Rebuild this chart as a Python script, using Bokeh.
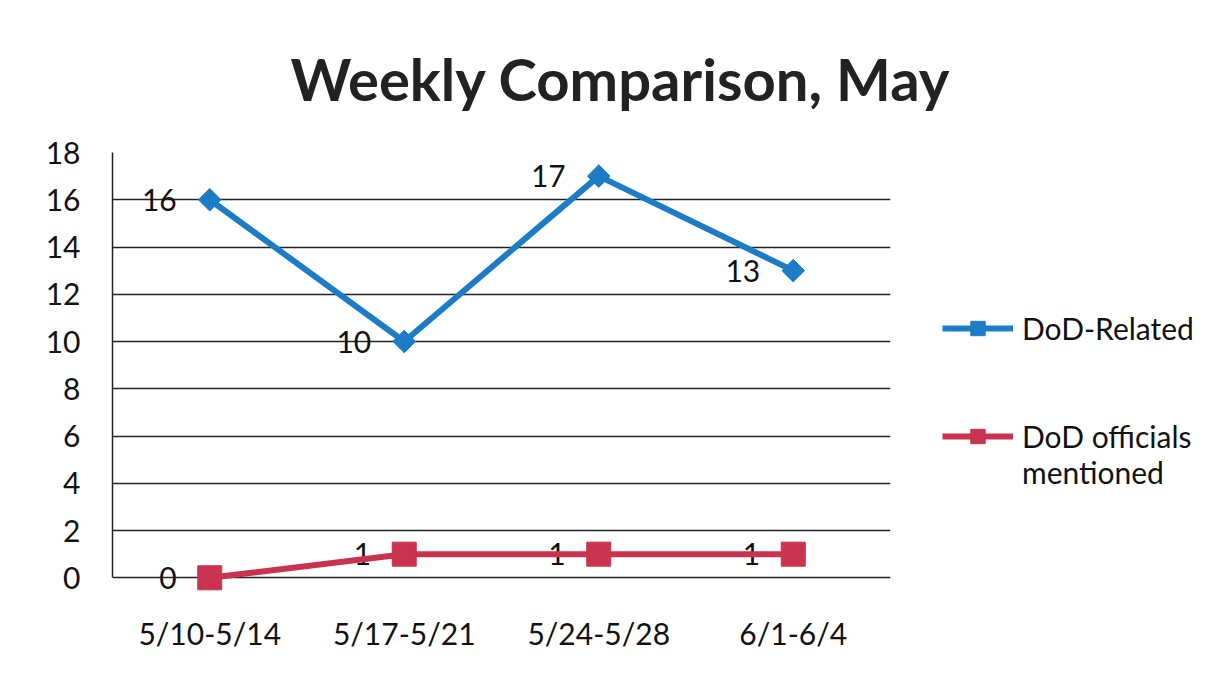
import numpy as np
from bokeh.plotting import figure
from bokeh.models import (FactorRange, Range1d, FixedTicker, Legend, LegendItem,
                          ColumnDataSource)
from bokeh.core.properties import value
from bokeh.embed import file_html
from bokeh.resources import INLINE

# ---- data ----
weeks = ["5/10-5/14", "5/17-5/21", "5/24-5/28", "6/1-6/4"]
dod_related = [16, 10, 17, 13]
dod_officials = [0, 1, 1, 1]
y_ticks = [0, 2, 4, 6, 8, 10, 12, 14, 16, 18]
title_text = "Weekly Comparison, May"
series_names = ["DoD-Related", "DoD officials", "mentioned"]

FONT = "Lato"
BLUE = "#1C7CC6"
RED = "#C9334F"
TXT = "30px"

p = figure(width=1212, height=678, output_backend="svg", toolbar_location=None,
           x_range=FactorRange(*weeks, range_padding=0),
           y_range=Range1d(-0.75, 18.0),
           frame_width=778, frame_height=443,
           min_border_left=112, min_border_right=322,
           min_border_top=152, min_border_bottom=83)
p.background_fill_color = "white"
p.border_fill_color = "white"
p.outline_line_color = None

# title
p.title.text = title_text
p.title.text_font = FONT
p.title.text_font_size = "58px"
p.title.text_font_style = "bold"
p.title.text_color = "#222222"
p.title.align = "left"
p.title.offset = 178
p.title.standoff = 79

# axes
p.xaxis.axis_line_color = None
p.xaxis.major_tick_line_color = None
p.xaxis.minor_tick_line_color = None
p.xaxis.major_label_text_font = FONT
p.xaxis.major_label_text_font_size = TXT
p.xaxis.major_label_text_color = "#111111"
p.xaxis.major_label_standoff = 13

p.yaxis.ticker = FixedTicker(ticks=y_ticks)
p.yaxis.bounds = (0, 18)
p.yaxis.axis_line_color = "#222222"
p.yaxis.axis_line_width = 1.5
p.yaxis.major_tick_line_color = None
p.yaxis.minor_tick_line_color = None
p.yaxis.major_label_text_font = FONT
p.yaxis.major_label_text_font_size = TXT
p.yaxis.major_label_text_color = "#111111"
p.yaxis.major_label_standoff = 26

p.xgrid.grid_line_color = None
p.ygrid.ticker = FixedTicker(ticks=y_ticks)
p.ygrid.grid_line_color = "#222222"
p.ygrid.grid_line_width = 1.5

src = ColumnDataSource(dict(x=weeks, a=dod_related, b=dod_officials,
                            la=[str(v) for v in dod_related],
                            lb=[str(v) for v in dod_officials]))

p.text(x="x", y="a", text="la", source=src, x_offset=-33, text_align="right",
       text_baseline="middle", text_font=value(FONT), text_font_size=TXT,
       text_color="#111111")
p.text(x="x", y="b", text="lb", source=src, x_offset=-33, text_align="right",
       text_baseline="middle", text_font=value(FONT), text_font_size=TXT,
       text_color="#111111")

l1 = p.line(x="x", y="a", source=src, line_color=BLUE, line_width=6)
m1 = p.scatter(x="x", y="a", source=src, marker="square", angle=np.pi / 4,
               size=16, fill_color=BLUE, line_color=BLUE)
l2 = p.line(x="x", y="b", source=src, line_color=RED, line_width=6)
m2 = p.scatter(x="x", y="b", source=src, marker="square", size=24,
               fill_color=RED, line_color=RED)

blank1 = p.scatter(x=[], y=[], fill_alpha=0, line_alpha=0)
blank2 = p.scatter(x=[], y=[], fill_alpha=0, line_alpha=0)
blank3 = p.scatter(x=[], y=[], fill_alpha=0, line_alpha=0)

legend = Legend(items=[
    LegendItem(label=series_names[0], renderers=[l1, m1]),
    LegendItem(label=" ", renderers=[blank1]),
    LegendItem(label=" ", renderers=[blank2]),
    LegendItem(label=series_names[1], renderers=[l2, m2]),
    LegendItem(label=series_names[2], renderers=[blank3]),
], location=(52, 105), orientation="vertical")
legend.glyph_width = 71
legend.glyph_height = 36
legend.label_height = 36
legend.spacing = 0
legend.padding = 0
legend.margin = 0
legend.label_standoff = 9
legend.label_text_font = FONT
legend.label_text_font_size = TXT
legend.label_text_color = "#111111"
legend.border_line_color = None
legend.background_fill_alpha = 0
p.add_layout(legend, "right")

open("out.html", "w").write(file_html(p, INLINE))
